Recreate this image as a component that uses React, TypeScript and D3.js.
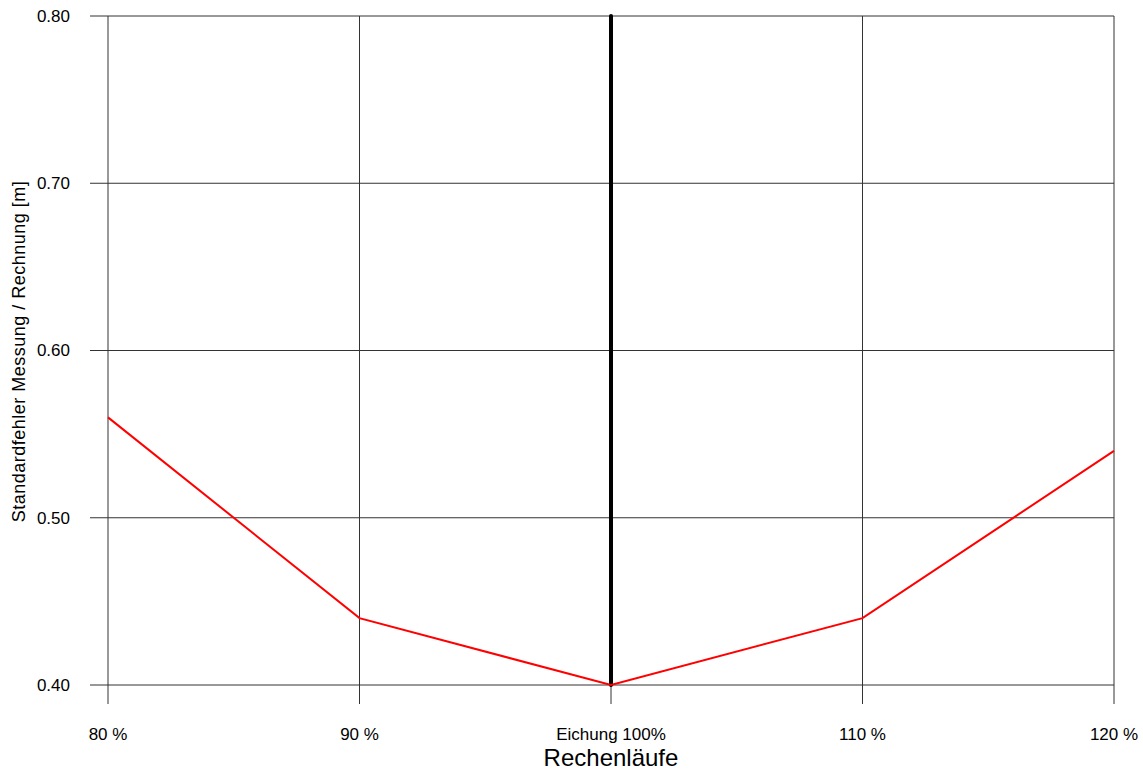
import React from "react";
import * as d3 from "d3";

const categories = ["80 %", "90 %", "Eichung 100%", "110 %", "120 %"];
const values = [0.56, 0.44, 0.40, 0.44, 0.54];
const yTicks = [0.4, 0.5, 0.6, 0.7, 0.8];
const markerCategory = "Eichung 100%";
const markerRange = [0.4, 0.8];

const W = 1143;
const H = 772;
const margin = { left: 108, right: 29, top: 16, bottom: 87 };
const FONT = "'Liberation Sans', Arial, sans-serif";

export default function App() {
  const x = d3
    .scalePoint<string>()
    .domain(categories)
    .range([margin.left, W - margin.right]);
  const y = d3
    .scaleLinear()
    .domain([0.4, 0.8])
    .range([H - margin.bottom, margin.top]);

  const line = d3
    .line<number>()
    .x((_, i) => x(categories[i]) as number)
    .y((d) => y(d));

  const x0 = margin.left;
  const x1 = W - margin.right;
  const yb = H - margin.bottom;

  return (
    <svg
      width={W}
      height={H}
      style={{ position: "absolute", left: 0, top: 0, background: "#fff" }}
    >
      {yTicks.map((t) => (
        <g key={"y" + t}>
          <line x1={x0 - 18} x2={x1} y1={y(t)} y2={y(t)} stroke="#333" strokeWidth={1} />
          <text
            x={x0 - 38}
            y={y(t)}
            dy="0.35em"
            textAnchor="end"
            fontFamily={FONT}
            fontSize={17}
            fill="#000"
          >
            {t.toFixed(2)}
          </text>
        </g>
      ))}
      {categories.map((c) => (
        <g key={"x" + c}>
          <line
            x1={x(c)}
            x2={x(c)}
            y1={margin.top}
            y2={yb + 19}
            stroke="#333"
            strokeWidth={1}
          />
          <text
            x={x(c)}
            y={yb + 55}
            textAnchor="middle"
            fontFamily={FONT}
            fontSize={17}
            fill="#000"
          >
            {c}
          </text>
        </g>
      ))}
      <line
        x1={x(markerCategory)}
        x2={x(markerCategory)}
        y1={y(markerRange[0])}
        y2={y(markerRange[1])}
        stroke="#000"
        strokeWidth={4}
        strokeLinecap="round"
      />
      <path d={line(values) || ""} fill="none" stroke="#ff0000" strokeWidth={2} />
      <text
        x={(x0 + x1) / 2}
        y={766}
        textAnchor="middle"
        fontFamily={FONT}
        fontSize={24}
        fill="#000"
      >
        Rechenläufe
      </text>
      <text
        transform={`translate(25, ${(margin.top + yb) / 2 + 1}) rotate(-90)`}
        textAnchor="middle"
        fontFamily={FONT}
        fontSize={18}
        letterSpacing={0.5}
        fill="#000"
      >
        Standardfehler Messung / Rechnung [m]
      </text>
    </svg>
  );
}
